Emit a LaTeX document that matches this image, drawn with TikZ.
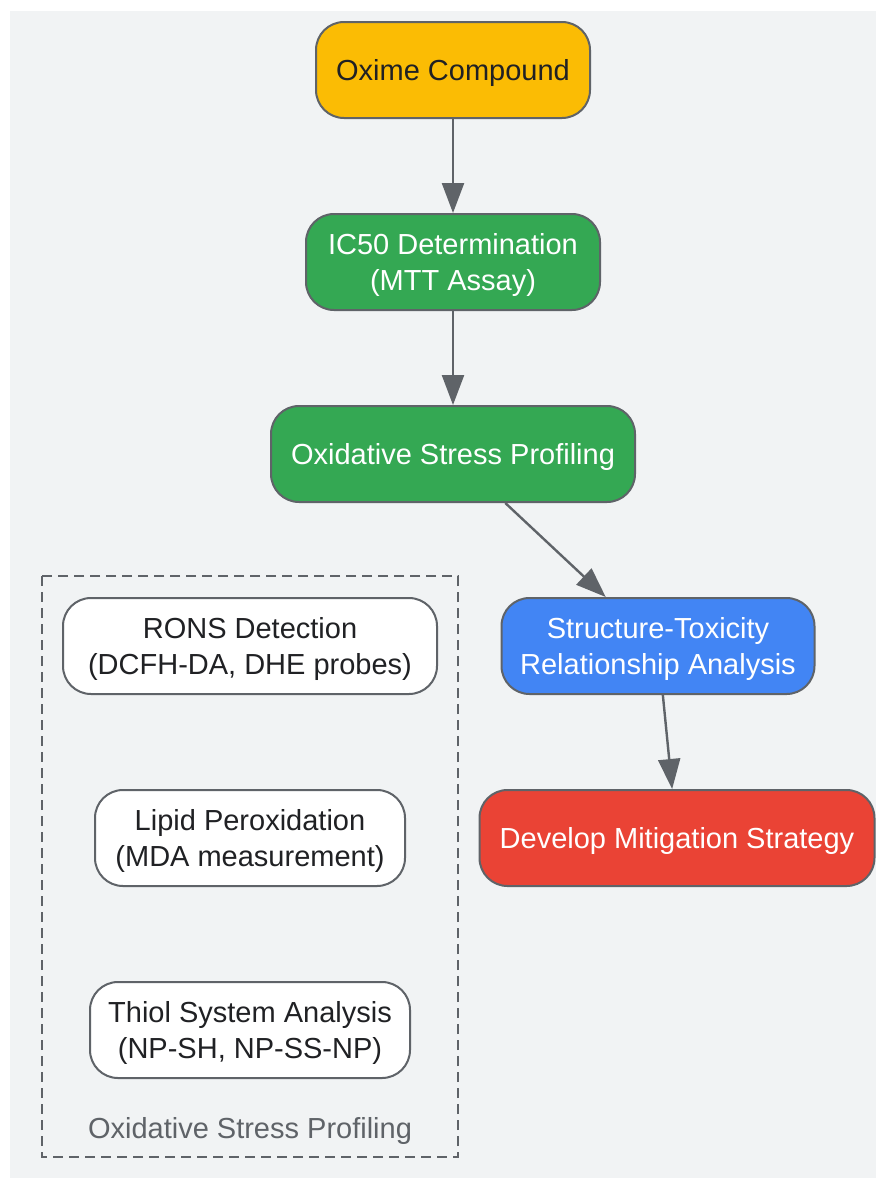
\documentclass[tikz,border=0pt]{standalone}
\usepackage{fontspec}
\setmainfont{Liberation Sans}
\usetikzlibrary{arrows.meta}
\definecolor{bgc}{HTML}{F1F3F4}
\definecolor{edge}{HTML}{5F6368}
\definecolor{txt}{HTML}{202124}
\definecolor{cyel}{HTML}{FBBC04}
\definecolor{cgrn}{HTML}{34A853}
\definecolor{cblu}{HTML}{4285F4}
\definecolor{cred}{HTML}{EA4335}
\tikzset{
  box/.style={draw=edge, line width=2pt, rounded corners=28pt, align=center,
    minimum height=96pt, inner sep=0pt, text height=27pt, font=\fontsize{29}{36}\selectfont},
  twoline/.style={text height=63pt},
  darktxt/.style={text=txt},
  lighttxt/.style={text=white},
  arr/.style={draw=edge, line width=2.4pt, -{Triangle[length=30pt,width=22pt]}},
}
\begin{document}
\begin{tikzpicture}[x=1pt,y=-1pt]
\useasboundingbox (0,0) rectangle (876,1179);
\fill[bgc] (10,11) rectangle (876,1178);
\draw[edge, line width=2.4pt, dash pattern=on 10pt off 6pt] (42,576) rectangle (458,1157);
\node[text=edge, text height=27pt, font=\fontsize{29}{36}\selectfont] (cl) at (250,1128) {Oxidative Stress Profiling};

\node[box, darktxt, fill=cyel, minimum width=274pt] (ox) at (453,70) {Oxime Compound};
\node[box, twoline, lighttxt, fill=cgrn, minimum width=294pt] (ic) at (453,262) {IC50 Determination\\(MTT Assay)};
\node[box, lighttxt, fill=cgrn, minimum width=364pt] (osp) at (453,454) {Oxidative Stress Profiling};
\node[box, twoline, lighttxt, fill=cblu, minimum width=313pt] (str) at (658,646) {Structure-Toxicity\\Relationship Analysis};
\node[box, lighttxt, fill=cred, minimum width=395pt] (dms) at (677,838) {Develop Mitigation Strategy};

\node[box, twoline, darktxt, fill=white, minimum width=374pt] (rons) at (250,646) {RONS Detection\\(DCFH-DA, DHE probes)};
\node[box, twoline, darktxt, fill=white, minimum width=310pt] (lip) at (250,838) {Lipid Peroxidation\\(MDA measurement)};
\node[box, twoline, darktxt, fill=white, minimum width=320pt] (thi) at (250,1030) {Thiol System Analysis\\(NP-SH, NP-SS-NP)};

\draw[arr] (ox) -- (ic);
\draw[arr] (ic) -- (osp);
\draw[arr] (osp) -- (str);
\draw[arr] (str) -- (dms);
\end{tikzpicture}
\end{document}
